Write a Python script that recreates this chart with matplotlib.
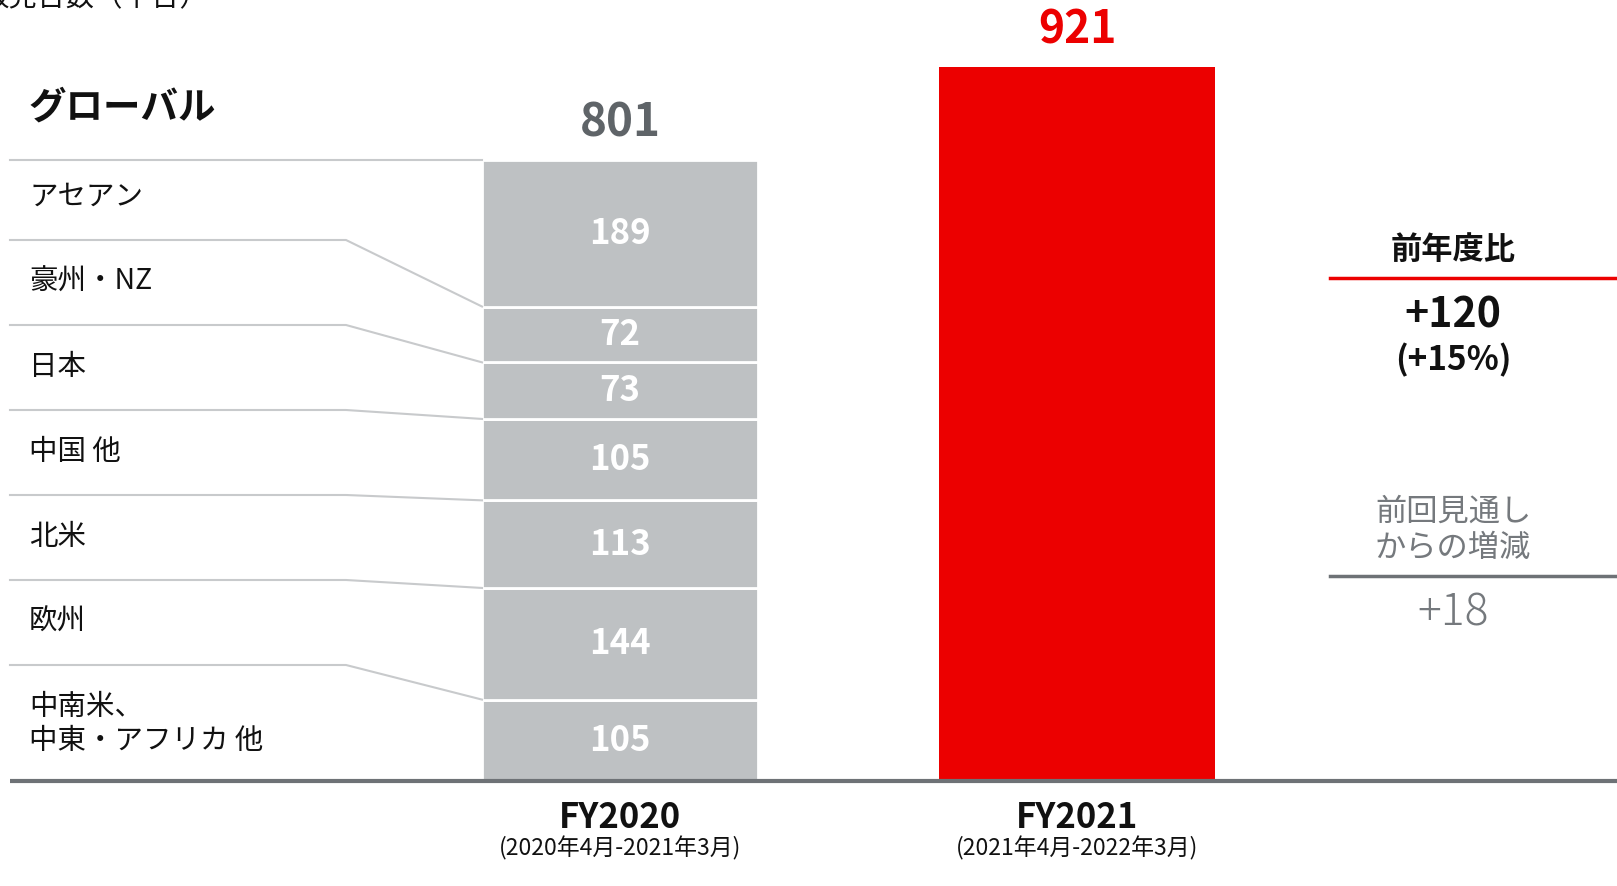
import matplotlib
matplotlib.use("Agg")
import matplotlib.pyplot as plt

plt.rcParams['font.family'] = ['Noto Sans CJK JP', 'DejaVu Sans']

# ---- data ----
regions = ["アセアン", "豪州・NZ", "日本", "中国 他", "北米", "欧州", "中南米、\n中東・アフリカ 他"]
fy2020_values = [189, 72, 73, 105, 113, 144, 105]
fy2020_total = 801
fy2021_total = 921
years = ["FY2020", "FY2021"]
year_sub = ["(2020年4月-2021年3月)", "(2021年4月-2022年3月)"]
yoy_diff = "+120"
yoy_pct = "(+15%)"
vs_forecast = "+18"

GRAY = "#bec1c3"
RED = "#ec0000"
LINE = "#c8cacc"
DARK = "#6e7276"
GTEXT = "#5f6468"

W, H = 1617, 886
fig = plt.figure(figsize=(W / 100, H / 100), dpi=100)

# main axes for bars: baseline at pixel y=781, 801 units -> 621 px
base_px = 781
k = (781 - 160) / 801.0
ax = fig.add_axes([0, 0, 1, 1])
ax.set_xlim(0, W)
ax.set_ylim((base_px - H) / k, base_px / k)
ax.axis('off')

# overlay axes in pixel coordinates
ov = fig.add_axes([0, 0, 1, 1], zorder=3)
ov.set_xlim(0, W)
ov.set_ylim(H, 0)
ov.axis('off')
ov.patch.set_alpha(0)

x20, x21, bw = 620, 1077, 276

# stacked FY2020 (bottom-up drawing)
bottom = 0
stack = list(zip(regions, fy2020_values))[::-1]
for name, v in stack:
    ax.bar(x20, v, bottom=bottom, width=bw, color=GRAY, edgecolor='white', linewidth=2, zorder=2)
    ax.text(x20, bottom + v / 2, str(v), ha='center', va='center', color='white',
            fontsize=25, fontweight='bold', zorder=4)
    bottom += v
ax.text(x20, fy2020_total + 18, str(fy2020_total), ha='center', va='bottom', color=GTEXT,
        fontsize=33, fontweight='bold')

# FY2021
ax.bar(x21, fy2021_total, width=bw, color=RED, zorder=2)
ax.text(x21, fy2021_total + 18, str(fy2021_total), ha='center', va='bottom', color=RED,
        fontsize=32, fontweight='bold')

# baseline
ov.plot([10, W], [781, 781], color=DARK, lw=3, zorder=5, solid_capstyle='butt')

# left labels and connector lines
row_lines = [160, 240, 325, 410, 495, 580, 665]
seg_tops = []
acc = fy2020_total
for v in fy2020_values:
    seg_tops.append(base_px - acc * k)
    acc -= v
ov.plot([10, 482], [160, 160], color=LINE, lw=1.5)
for i in range(1, 7):
    yl = row_lines[i]
    yb = seg_tops[i]
    ov.plot([10, 346, 482], [yl, yl, yb], color=LINE, lw=1.5)

label_y = [197, 282, 367, 452, 537, 622, 724]
for name, yy in zip(regions, label_y):
    ov.text(29, yy, name, ha='left', va='center', fontsize=20.5, color='#111111', linespacing=1.2)

ov.text(29, 107, "グローバル", ha='left', va='center', fontsize=27, fontweight='bold', color='#111111')
ov.text(-20, 13, "販売台数（千台）", ha='left', va='bottom', fontsize=20.5, color='#111111')

# x labels
for xc, y, s in zip([x20, x21], years, year_sub):
    ov.text(xc, 817, y, ha='center', va='center', fontsize=25, fontweight='bold', color='#111111')
    ov.text(xc, 848, s, ha='center', va='center', fontsize=16.5, color='#111111')

# right panel
cx = 1453
ov.text(cx, 250, "前年度比", ha='center', va='center', fontsize=22.5, fontweight='bold', color='#111111')
ov.plot([1330, W], [278, 278], color=RED, lw=2.5)
ov.text(cx, 315, yoy_diff, ha='center', va='center', fontsize=29.5, fontweight='bold', color='#111111')
ov.text(cx, 360, yoy_pct, ha='center', va='center', fontsize=24, fontweight='bold', color='#111111')
ov.text(cx, 512, "前回見通し", ha='center', va='center', fontsize=22.5, color='#75797d')
ov.text(cx, 548, "からの増減", ha='center', va='center', fontsize=22.5, color='#75797d')
ov.plot([1330, W], [576, 576], color=DARK, lw=2.5)
ov.text(cx, 613, vs_forecast, ha='center', va='center', fontsize=32, fontweight='light', color='#75797d')

fig.savefig("out.png", dpi=100)
